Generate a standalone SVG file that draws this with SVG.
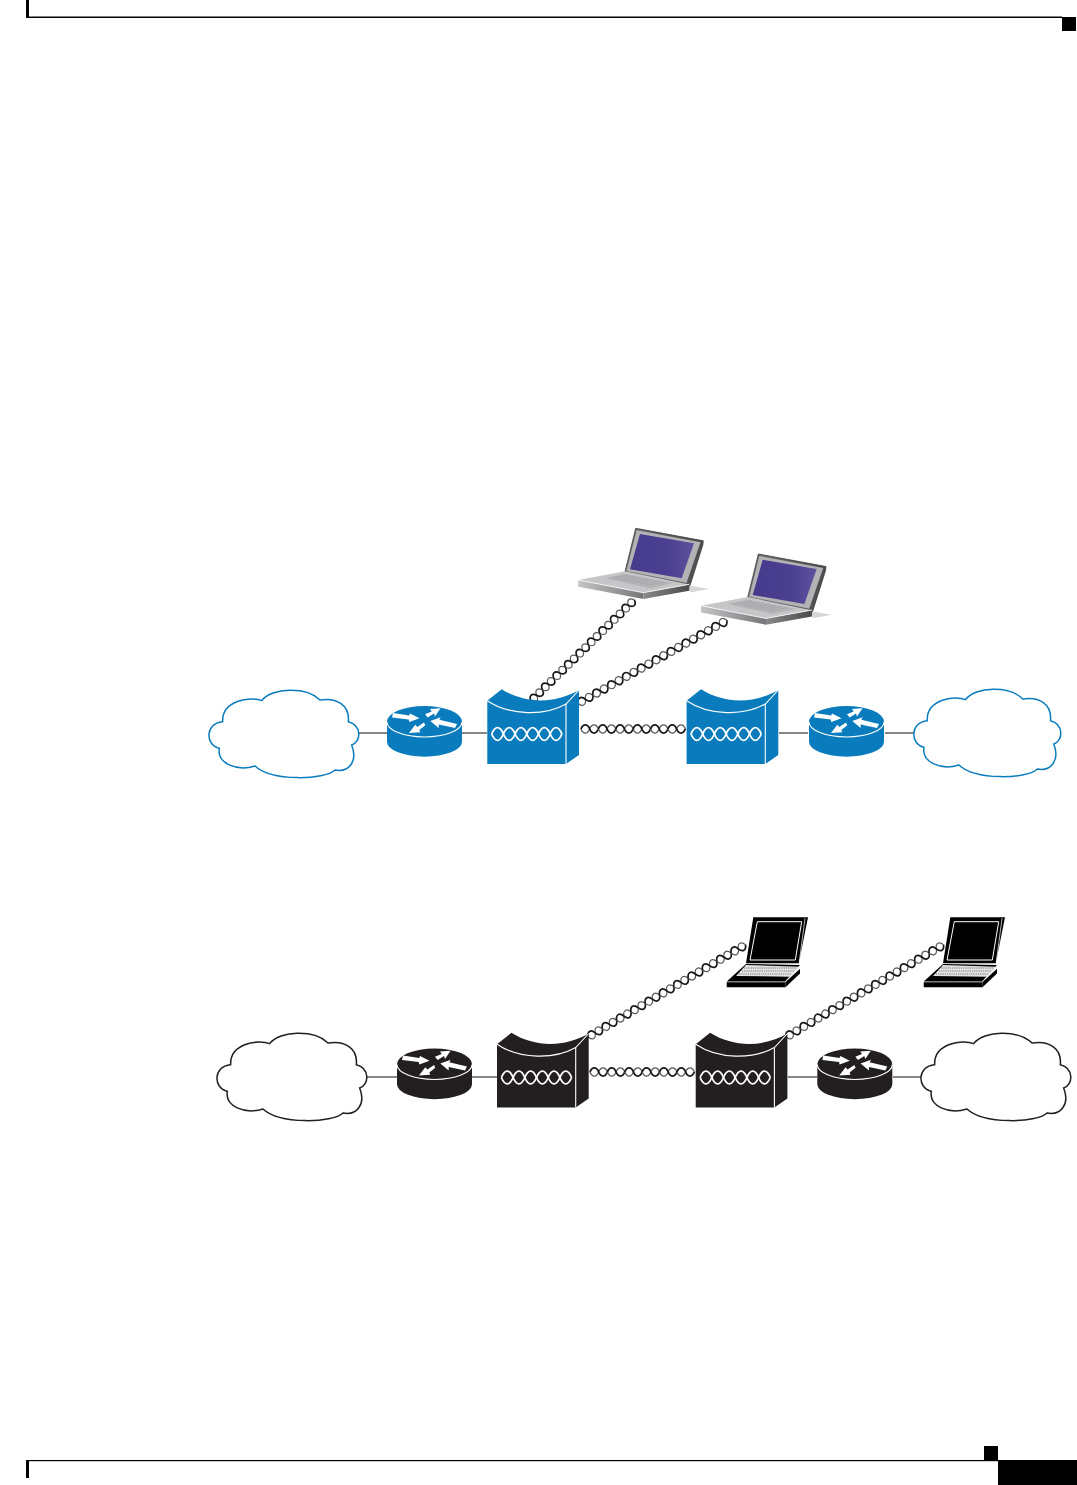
<svg xmlns="http://www.w3.org/2000/svg" width="1077" height="1485" viewBox="0 0 1077 1485">
<style>
.wire{stroke:#111;stroke-width:1.2;fill:none}
.blue{fill:#0a7cbd}
.dark{fill:#231f20}
.ln{fill:none;stroke:#fff;stroke-width:1.1}
.cl{fill:#fff;stroke-width:4.5}
.k{fill:#000}
</style>
<defs>
<linearGradient id="scr" x1="0" x2="1" y1="0" y2="0"><stop offset="0" stop-color="#453a8c"/><stop offset=".6" stop-color="#4b3f90"/><stop offset="1" stop-color="#5f539f"/></linearGradient>
<linearGradient id="lid" x1="0" x2="1" y1="0" y2="0"><stop offset="0" stop-color="#707072"/><stop offset="1" stop-color="#4c4c4f"/></linearGradient>
<linearGradient id="frt" x1="0" x2="1" y1="0" y2="0"><stop offset="0" stop-color="#c4c4c6"/><stop offset="1" stop-color="#77777a"/></linearGradient>
<linearGradient id="sd" x1="0" x2="1" y1="0" y2="0"><stop offset="0" stop-color="#8a8a8c"/><stop offset="1" stop-color="#4a4a4c"/></linearGradient>
<g id="u"><path d="M0 0c2 5.400 6.200 5.400 8.200 0c2-5.400 6.200-5.400 8.200 0" fill="none" stroke="#58595b" stroke-width="1.200"/><path d="M0 0c2-5.400 6.200-5.400 8.200 0c2 5.400 6.200 5.400 8.200 0" fill="none" stroke="#1a1718" stroke-width="1.700"/></g>
<g id="t2"><use href="#u"/><use href="#u" x="16.400"/></g>
<g id="t4"><use href="#t2"/><use href="#t2" x="32.800"/></g>
<g id="t8"><use href="#t4"/><use href="#t4" x="65.600"/></g>
<path id="cloud" class="cl" d="M68 125C65 62 150 48 185 62C215 22 320 20 360 60C410 52 450 75 445 125C485 135 485 185 455 195C475 245 445 278 405 270C375 300 215 305 165 258C110 275 50 250 58 205C15 195 15 130 68 125Z"/>
<g id="helix"><path d="M0 0c3.500 8.400 8.200 8.400 11.700 0c3.500-8.400 8.200-8.400 11.700 0c3.500 8.400 8.200 8.400 11.700 0c3.500-8.400 8.200-8.400 11.700 0c3.500 8.400 8.200 8.400 11.700 0c3.500-8.400 8.200-8.400 11.700 0" fill="none" stroke="#fff" stroke-width="1.800"/><path d="M0 0c3.500-8.400 8.200-8.400 11.700 0c3.500 8.400 8.200 8.400 11.700 0c3.500-8.400 8.200-8.400 11.700 0c3.500 8.400 8.200 8.400 11.700 0c3.500-8.400 8.200-8.400 11.700 0c3.500 8.400 8.200 8.400 11.700 0" fill="none" stroke="#fff" stroke-width="1.800"/></g>
<g id="rarrows" fill="#fff"><path d="M393 713L409.300 715.400L410 713.500L419.500 718.300L409.300 722L408.700 719.600L392 717.600Z"/><path d="M425 714.300L431.700 711.400L430 709L440.500 708.300L435 716.500L434 713.600L427.700 717.500Z"/><path d="M457 724L439.300 719.700L440.700 717.200L430.300 721L438.700 728L438.700 724.600L455 728Z"/><path d="M424 722.400L417.300 727L415.300 724.700L409 733L420.300 732.300L419.300 730L425.300 725.300Z"/></g>
<path id="rbody" d="M387 721.700V741.700A37.500 15 0 0 0 462 741.700V721.700A37.500 15.700 0 0 0 387 721.700Z"/>
<path id="devbody" d="M487.300 700.700L501.700 689.300C525 704 555 704 579 690V755L566 764H487.300Z"/>
<g id="devlines" class="ln"><path d="M487.300 700.700C510 716 545 716 566 704L579 690"/><path d="M566 704V764"/></g>
<g id="kbdots"><path d="M605 578.300L625 574L673.300 583.300L650 588.300Z" fill="#b4b4b6"/><path d="M610 578L629 575M616 579.200L635 576M622 580.400L641 577.200M628 581.600L647 578.400M634 582.800L653 579.600M640 584L659 580.800M646 585.200L665 582" stroke="#a0a0a3" stroke-width=".6" fill="none"/></g>
<g id="lap">
<path d="M689 585.500L709 589L690 592.500Z" fill="#d6d6d8"/>
<path d="M625 571.800L635.700 528.300L703.300 540.800L702.800 545L690 585.500Z" fill="url(#lid)" stroke="#3c3c3e" stroke-width=".8"/>
<path d="M636.700 530.300L700.500 542.300L686.500 583L626.500 571Z" fill="#b3b3b5"/>
<path d="M640 534L694 543.300L681.700 578.300L630 569.300Z" fill="url(#scr)"/>
<path d="M578.300 580L625 571.300L689.300 584.500L643.300 592.700Z" fill="#c6c6c8"/>
<use href="#kbdots"/>
<path d="M578.300 580L643.300 592.700V599L578.300 586.700Z" fill="url(#frt)"/>
<path d="M643.300 592.700L689.300 584.500V590.700L643.300 599Z" fill="url(#sd)"/>
<path d="M578.300 580L643.300 592.700L689.300 584.300" fill="none" stroke="#fff" stroke-width=".8"/>
</g>
<g id="blap">
<path d="M753.300 917.300H808L798.800 963.300L746 963.300Z" class="k"/>
<path d="M757.300 921.700H801.700L795.300 960H750Z" fill="none" stroke="#fff" stroke-width="1"/>
<path d="M805 918.300L799.300 962" fill="none" stroke="#fff" stroke-width=".7"/>
<path d="M746 964L800 965L785 981.500H726.700Z" class="k"/>
<path d="M746 965L800 966.700L790 976.700L736 976Z" fill="#e2e2e2"/>
<path d="M744 968H797M742 971H794M739 974H791" stroke="#777" stroke-width="1" stroke-dasharray="1.200 1" fill="none"/>
<path d="M726.700 982.200H785.500V987.300H726.700Z" class="k"/>
<path d="M785.500 982L800 968.700V973.500L785.500 987.300Z" class="k"/>
</g>
</defs>
<rect width="1077" height="1485" fill="#fff"/>
<g id="page-frame">
<rect class="k" x="26" y="0" width="3" height="18"/><rect class="k" x="26" y="16.500" width="1036" height="1.500"/><rect class="k" x="1062" y="17" width="14" height="14"/>
<rect class="k" x="26" y="1460" width="3" height="18"/><rect class="k" x="26" y="1460" width="972" height="1.200"/><rect class="k" x="984" y="1446" width="14" height="14"/><rect class="k" x="998" y="1460" width="79" height="25"/>
</g>
<g id="connectors">
<path class="wire" d="M358 733H387M462 733H487M779 733H808M885 733H914M365 1077H397M472 1077H497M788 1077H817M893 1077H921"/>
<g transform="translate(531 701) rotate(-44.400) scale(.98 1)"><use href="#t8"/><use href="#u" x="131.200"/></g>
<g transform="translate(578 703.500) rotate(-29.200) scale(1.040 1)"><use href="#t8"/><use href="#t2" x="131.200"/></g>
<g transform="translate(581 729) scale(1.060 1)"><use href="#t4"/><use href="#t2" x="65.600"/></g>
<g transform="translate(588 1037) rotate(-30.400) scale(1.012 1)"><use href="#t8"/><use href="#t2" x="131.200"/><use href="#u" x="164"/></g>
<g transform="translate(786 1037) rotate(-30.400) scale(1.012 1)"><use href="#t8"/><use href="#t2" x="131.200"/><use href="#u" x="164"/></g>
<g transform="translate(590 1072) scale(1.060 1)"><use href="#t4"/><use href="#t2" x="65.600"/></g>
</g>
<g id="cloud-a" stroke="#0a7cbd"><use href="#cloud" transform="translate(200 680) scale(.3333)"/></g>
<g id="router-a"><use href="#rbody" class="blue"/><path class="ln" d="M387 722A37.500 15 0 0 0 462 722"/><use href="#rarrows"/></g>
<g id="device-a"><use href="#devbody" class="blue"/><use href="#devlines"/><use href="#helix" x="491.700" y="734"/></g>
<g id="device-b" transform="translate(199.300 0)"><use href="#devbody" class="blue"/><use href="#devlines"/><use href="#helix" x="491.700" y="734"/></g>
<g id="router-b" transform="translate(422 0)"><use href="#rbody" class="blue"/><path class="ln" d="M387 722A37.500 15 0 0 0 462 722"/><use href="#rarrows"/></g>
<g id="cloud-b" stroke="#0a7cbd"><use href="#cloud" transform="translate(905 679) scale(.327 .3333)"/></g>
<g id="laptop-a"><use href="#lap"/></g>
<g id="laptop-b" transform="translate(122.700 25.700)"><use href="#lap"/></g>
<g id="cloud-c" stroke="#231f20"><use href="#cloud" transform="translate(208 1023) scale(.3333)"/></g>
<g id="router-c" transform="translate(10 342.500)"><use href="#rbody" class="dark"/><path class="ln" d="M387 722A37.500 15 0 0 0 462 722"/><use href="#rarrows"/></g>
<g id="device-c" transform="translate(9.700 343.500)"><use href="#devbody" class="dark"/><use href="#devlines"/><use href="#helix" x="491.700" y="734"/></g>
<g id="device-d" transform="translate(208.400 343.500)"><use href="#devbody" class="dark"/><use href="#devlines"/><use href="#helix" x="491.700" y="734"/></g>
<g id="router-d" transform="translate(430.300 342.500)"><use href="#rbody" class="dark"/><path class="ln" d="M387 722A37.500 15 0 0 0 462 722"/><use href="#rarrows"/></g>
<g id="cloud-d" stroke="#231f20"><use href="#cloud" transform="translate(912 1023) scale(.3333)"/></g>
<g id="laptop-c"><use href="#blap"/></g>
<g id="laptop-d" transform="translate(197 0)"><use href="#blap"/></g>
</svg>
